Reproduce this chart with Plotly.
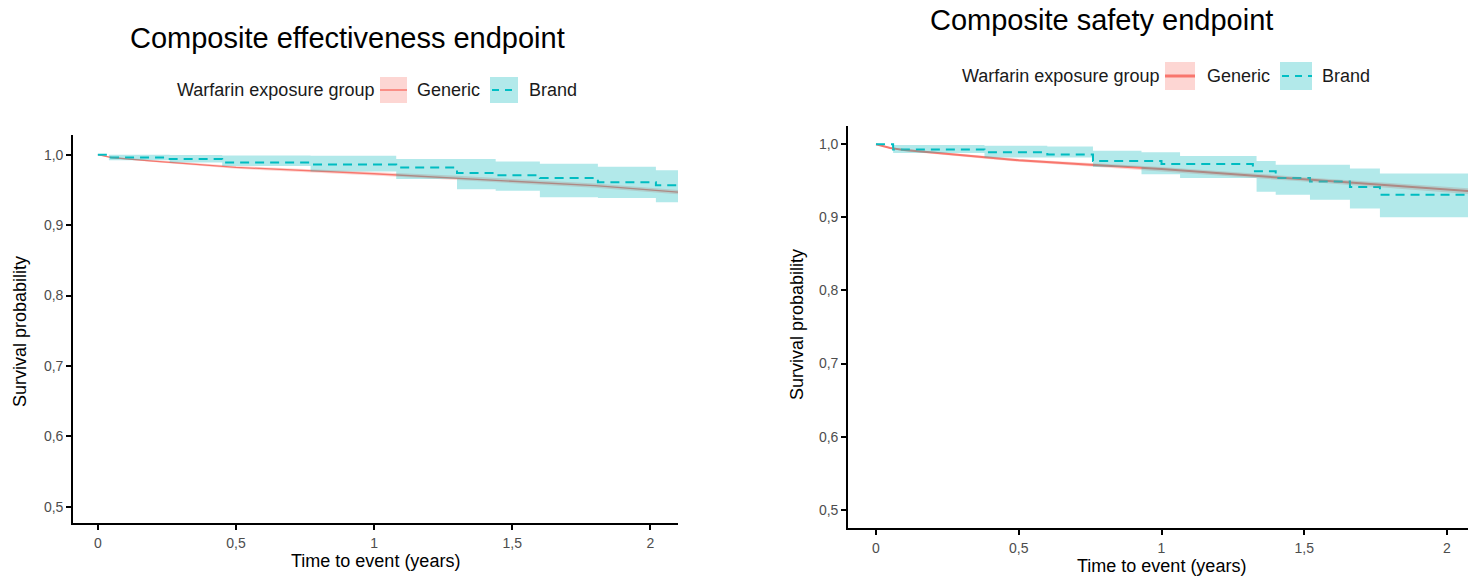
import plotly.graph_objects as go

# ---------------- data ----------------
x_tick_vals = [0, 0.5, 1, 1.5, 2]
x_tick_labels = ["0", "0,5", "1", "1,5", "2"]
y_tick_vals = [0.5, 0.6, 0.7, 0.8, 0.9, 1.0]
y_tick_labels = ["0,5", "0,6", "0,7", "0,8", "0,9", "1,0"]

groups = ["Generic", "Brand"]
legend_title = "Warfarin exposure group"
panel_titles = ["Composite effectiveness endpoint", "Composite safety endpoint"]
x_title = "Time to event (years)"
y_title = "Survival probability"

# Composite effectiveness endpoint
eff_generic_time = [0, 0.05, 0.2, 0.5, 1.0, 1.3, 1.8, 2.1]
eff_generic_surv = [1.0, 0.996, 0.991, 0.982, 0.973, 0.967, 0.956, 0.947]
eff_generic_lower = [1.0, 0.995, 0.9895, 0.980, 0.9705, 0.964, 0.953, 0.944]
eff_generic_upper = [1.0, 0.997, 0.9925, 0.984, 0.9755, 0.970, 0.959, 0.950]

eff_brand_time = [0, 0.04, 0.26, 0.45, 0.77, 1.08, 1.30, 1.44, 1.60, 1.81, 2.02, 2.1]
eff_brand_surv = [1.0, 0.996, 0.994, 0.989, 0.986, 0.982, 0.974, 0.971, 0.967, 0.961, 0.9565, 0.9565]
eff_brand_lower = [1.0, 0.992, 0.989, 0.984, 0.976, 0.9655, 0.951, 0.949, 0.9395, 0.9387, 0.9325, 0.9325]
eff_brand_upper = [1.0, 1.0, 0.9995, 0.999, 0.9985, 0.994, 0.994, 0.9905, 0.987, 0.983, 0.978, 0.978]

# Composite safety endpoint
saf_generic_time = [0, 0.05, 0.1, 0.5, 0.75, 1.0, 1.5, 2.0735]
saf_generic_surv = [1.0, 0.995, 0.992, 0.978, 0.972, 0.966, 0.952, 0.936]
saf_generic_lower = [1.0, 0.994, 0.9905, 0.976, 0.9695, 0.963, 0.949, 0.932]
saf_generic_upper = [1.0, 0.996, 0.9935, 0.980, 0.9745, 0.969, 0.955, 0.940]

saf_brand_time = [0, 0.06, 0.38, 0.6, 0.76, 1.0, 1.32, 1.40, 1.52, 1.66, 1.765, 2.0735]
saf_brand_surv = [1.0, 0.993, 0.989, 0.986, 0.977, 0.973, 0.963, 0.954, 0.949, 0.9415, 0.931, 0.931]
saf_band_time = [0, 0.06, 0.38, 0.6, 0.76, 0.93, 1.065, 1.333, 1.40, 1.52, 1.66, 1.765, 2.0735]
saf_brand_lower = [1.0, 0.988, 0.982, 0.982, 0.969, 0.959, 0.954, 0.935, 0.931, 0.924, 0.912, 0.900, 0.900]
saf_brand_upper = [1.0, 0.999, 0.998, 0.997, 0.991, 0.989, 0.984, 0.977, 0.972, 0.972, 0.967, 0.960, 0.960]

# ---------------- style ----------------
RED = "#F8766D"
TEAL = "#00BFC4"
RED_FILL = "rgba(248,118,109,0.3)"
TEAL_FILL = "rgba(0,181,186,0.3)"
FONT = "Liberation Sans, Arial, Helvetica, sans-serif"
W, H = 1468, 576

fig = go.Figure()


def add_panel(xa, ya, g_t, g_s, g_lo, g_hi, b_t, b_s, bb_t, b_lo, b_hi, red_w):
    # lines first (ribbons drawn on top, like the original)
    fig.add_trace(go.Scatter(x=g_t, y=g_s, mode="lines", name=groups[0],
                             line=dict(color=RED, width=red_w), xaxis=xa, yaxis=ya,
                             showlegend=False))
    fig.add_trace(go.Scatter(x=b_t, y=b_s, mode="lines", name=groups[1],
                             line=dict(color=TEAL, width=2, dash="9px,6px", shape="hv"),
                             xaxis=xa, yaxis=ya, showlegend=False))
    # generic ribbon
    fig.add_trace(go.Scatter(x=g_t, y=g_hi, mode="lines", line=dict(width=0),
                             xaxis=xa, yaxis=ya, showlegend=False, hoverinfo="skip"))
    fig.add_trace(go.Scatter(x=g_t, y=g_lo, mode="lines", line=dict(width=0),
                             fill="tonexty", fillcolor=RED_FILL,
                             xaxis=xa, yaxis=ya, showlegend=False, hoverinfo="skip"))
    # brand ribbon
    fig.add_trace(go.Scatter(x=bb_t, y=b_hi, mode="lines", line=dict(width=0, shape="hv"),
                             xaxis=xa, yaxis=ya, showlegend=False, hoverinfo="skip"))
    fig.add_trace(go.Scatter(x=bb_t, y=b_lo, mode="lines", line=dict(width=0, shape="hv"),
                             fill="tonexty", fillcolor=TEAL_FILL,
                             xaxis=xa, yaxis=ya, showlegend=False, hoverinfo="skip"))


add_panel("x", "y", eff_generic_time, eff_generic_surv, eff_generic_lower, eff_generic_upper,
          eff_brand_time, eff_brand_surv, eff_brand_time, eff_brand_lower, eff_brand_upper, 1.3)
add_panel("x2", "y2", saf_generic_time, saf_generic_surv, saf_generic_lower, saf_generic_upper,
          saf_brand_time, saf_brand_surv, saf_band_time, saf_brand_lower, saf_brand_upper, 2.0)

axis_common = dict(showline=True, linecolor="black", linewidth=1.6, ticks="outside",
                   ticklen=5, tickwidth=1.6, tickcolor="black", showgrid=False,
                   zeroline=False, tickfont=dict(size=14, color="#4d4d4d", family=FONT),
                   fixedrange=True)

fig.update_layout(
    width=W, height=H,
    margin=dict(l=0, r=0, t=0, b=0),
    paper_bgcolor="white", plot_bgcolor="white",
    showlegend=False,
    font=dict(family=FONT, color="black"),
    xaxis=dict(domain=[73 / W, 678 / W], range=[-0.09, 2.1], anchor="y",
               tickmode="array", tickvals=x_tick_vals, ticktext=x_tick_labels,
               ticklabelstandoff=1, **axis_common),
    yaxis=dict(domain=[(H - 523) / H, (H - 135) / H], range=[0.477, 1.028], anchor="x",
               tickmode="array", tickvals=y_tick_vals, ticktext=y_tick_labels,
               **axis_common),
    xaxis2=dict(domain=[848 / W, 1.0], range=[-0.098, 2.0735], anchor="y2",
                tickmode="array", tickvals=x_tick_vals, ticktext=x_tick_labels,
                ticklabelstandoff=1, **axis_common),
    yaxis2=dict(domain=[(H - 528) / H, (H - 126) / H], range=[0.475, 1.025], anchor="x2",
                tickmode="array", tickvals=y_tick_vals, ticktext=y_tick_labels,
                **axis_common),
)


def px_ann(text, x, y, size, xanchor="center", angle=0, color="black"):
    fig.add_annotation(text=text, x=x / W, y=1 - y / H, xref="paper", yref="paper",
                       xanchor=xanchor, yanchor="middle", showarrow=False,
                       textangle=angle, font=dict(size=size, color=color, family=FONT))


# titles
px_ann(panel_titles[0], 347, 38, 29)
px_ann(panel_titles[1], 1101, 20, 29)
# axis titles
px_ann(x_title, 375, 561, 18)
px_ann(x_title, 1161, 566, 18)
px_ann(y_title, 20, 332, 18, angle=-90)
px_ann(y_title, 797, 325, 18, angle=-90)


def legend(text_right, k1, k2, y0, y1, gen_x, brand_x, red_w):
    yc = (y0 + y1) / 2
    px_ann(legend_title, text_right, yc, 18, xanchor="right", color="#1a1a1a")
    for (a, b), fill in ((k1, RED_FILL), (k2, TEAL_FILL)):
        fig.add_shape(type="rect", xref="paper", yref="paper",
                      x0=a / W, x1=b / W, y0=1 - y1 / H, y1=1 - y0 / H,
                      fillcolor=fill, line=dict(width=0))
    fig.add_shape(type="line", xref="paper", yref="paper",
                  x0=k1[0] / W, x1=k1[1] / W, y0=1 - yc / H, y1=1 - yc / H,
                  line=dict(color=RED, width=red_w))
    fig.add_shape(type="line", xref="paper", yref="paper",
                  x0=(k2[0] + 2) / W, x1=k2[1] / W, y0=1 - yc / H, y1=1 - yc / H,
                  line=dict(color=TEAL, width=2, dash="7px,6px"))
    px_ann(groups[0], gen_x, yc, 18, xanchor="left", color="#1a1a1a")
    px_ann(groups[1], brand_x, yc, 18, xanchor="left", color="#1a1a1a")


legend(376, (380, 407), (490, 518), 77, 103, 415, 527, 1.5)
legend(1161, (1165, 1195), (1280, 1312), 62, 90, 1205, 1320, 3)

fig.write_html(
    "out.html",
    config={"displayModeBar": False},
    post_script="document.body.style.margin='0';document.body.style.overflow='hidden';",
)
